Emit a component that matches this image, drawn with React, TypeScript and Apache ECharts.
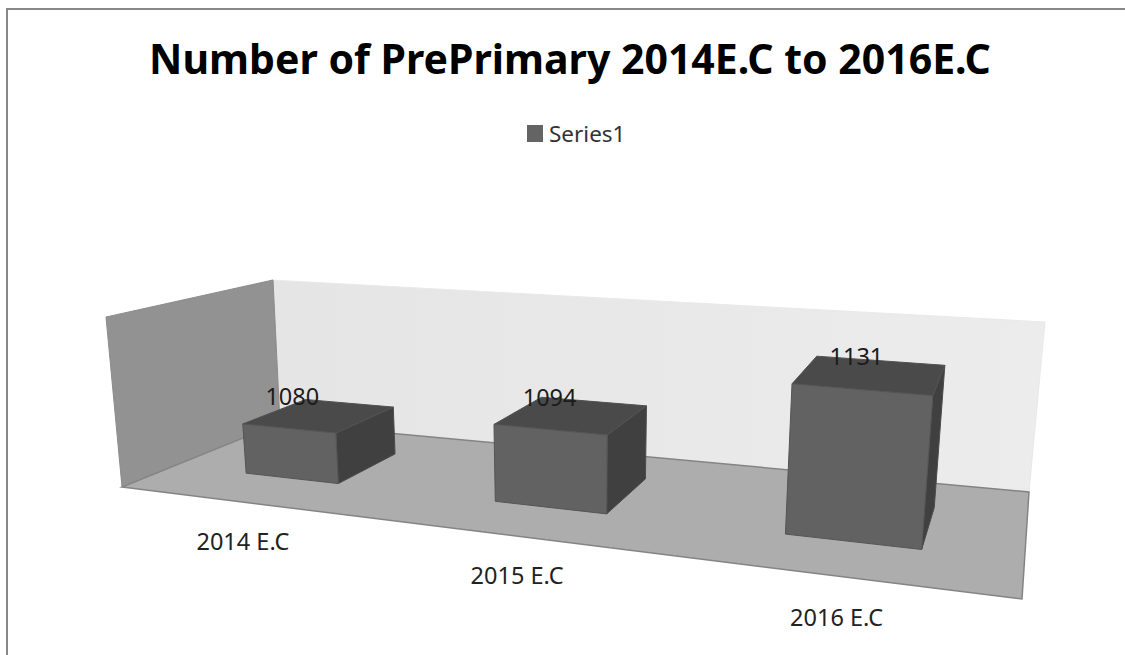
import React, { useEffect, useRef } from "react";
import * as echarts from "echarts";

const title = "Number of PrePrimary 2014E.C to 2016E.C";
const seriesName = "Series1";
const categories = ["2014 E.C", "2015 E.C", "2016 E.C"];
const values = [1080, 1094, 1131];

const FONT = "'Noto Sans', sans-serif";
type P = [number, number];

// Corners of the drawn box: front-left, front-right, back-right, back-left
const FLOOR: P[] = [[122, 487], [1022, 599], [1029, 492], [280, 423]];
const CEIL: P[] = [[106, 317], [1041, 395], [1045, 322], [273, 280]];
// Where the box's vertical edges converge, far below the picture
const VERTICAL_VANISH: P = [576, 5314];

function homography(q: P[]) {
  const [[x0, y0], [x1, y1], [x2, y2], [x3, y3]] = q;
  const dx1 = x1 - x2, dx2 = x3 - x2, sx = x0 - x1 + x2 - x3;
  const dy1 = y1 - y2, dy2 = y3 - y2, sy = y0 - y1 + y2 - y3;
  const den = dx1 * dy2 - dx2 * dy1;
  const g = (sx * dy2 - dx2 * sy) / den;
  const h = (dx1 * sy - sx * dy1) / den;
  const a = x1 - x0 + g * x1, b = x3 - x0 + h * x3;
  const d = y1 - y0 + g * y1, e = y3 - y0 + h * y3;
  return (u: number, w: number): P => {
    const k = g * u + h * w + 1;
    return [(a * u + b * w + x0) / k, (d * u + e * w + y0) / k];
  };
}
const floorAt = homography(FLOOR);
const ceilAt = homography(CEIL);
// u: along the category axis, v: up the value axis, w: depth
const project = (u: number, v: number, w: number): P => {
  const f = floorAt(u, w);
  const y = f[1] + (ceilAt(u, w)[1] - f[1]) * v;
  const lean = (f[0] - VERTICAL_VANISH[0]) / (f[1] - VERTICAL_VANISH[1]);
  return [f[0] + lean * (y - f[1]), y];
};

const poly = (points: P[], fill: any, stroke: string, lineWidth = 1) => ({
  type: "polygon",
  shape: { points },
  style: { fill, stroke, lineWidth },
});

const renderWalls = () => ({
  type: "group",
  children: [
    poly([project(0, 1, 1), project(1, 1, 1), project(1, 0, 1), project(0, 0, 1)], {
      type: "linear", x: 0, y: 0, x2: 1, y2: 0,
      colorStops: [{ offset: 0, color: "#e5e5e5" }, { offset: 1, color: "#ececec" }],
    }, "#e9e9e9"),
    poly([project(0, 1, 0), [273, 280], project(0, 0, 1), project(0, 0, 0)], "#929292", "#8c8c8c"),
    poly([project(0, 0, 0), project(1, 0, 0), project(1, 0, 1), project(0, 0, 1)], "#adadad", "#848484", 1.5),
  ],
});

const BAR_WIDTH = 0.133;
const BAR_SHIFT = [0.008, 0.014, 0.007];
const VALUE_LABEL_NUDGE: P[] = [[3, -33], [-1, -33], [-6, -34]];
const LABEL_NUDGE: P[] = [[0.5, 39], [3, 39], [0.5, 41]];
const DEPTH_FRONT = 0.3;
const DEPTH_BACK = 0.72;

const renderBar = (params: any, api: any) => {
  const i = api.value(0);
  const cs = params.coordSys;
  const pt = api.coord([i, api.value(1)]);
  const uc = (pt[0] - cs.x) / cs.width + BAR_SHIFT[i];
  const v = (cs.y + cs.height - pt[1]) / cs.height;
  const u0 = uc - BAR_WIDTH / 2, u1 = uc + BAR_WIDTH / 2;
  const w0 = DEPTH_FRONT, w1 = DEPTH_BACK;
  const ftl = project(u0, v, w0), ftr = project(u1, v, w0);
  const fbl = project(u0, 0, w0), fbr = project(u1, 0, w0);
  const btl = project(u0, v, w1), btr = project(u1, v, w1);
  const bbr = project(u1, 0, w1);
  const edge = floorAt(uc, 0);
  return {
    type: "group",
    children: [
      poly([ftr, btr, bbr, fbr], "#404040", "#4c4c4c"),
      poly([ftl, btl, btr, ftr], "#4a4a4a", "#525252"),
      poly([ftl, ftr, fbr, fbl], "#626262", "#555555"),
      {
        type: "text",
        style: {
          x: (ftl[0] + ftr[0]) / 2 + VALUE_LABEL_NUDGE[i][0],
          y: (ftl[1] + ftr[1]) / 2 + VALUE_LABEL_NUDGE[i][1],
          text: String(api.value(1)), fill: "#1c1c1c",
          font: `23.5px ${FONT}`, align: "center", verticalAlign: "middle",
        },
      },
      {
        type: "text",
        style: {
          x: edge[0] + LABEL_NUDGE[i][0], y: edge[1] + LABEL_NUDGE[i][1],
          text: categories[i], fill: "#222222",
          font: `23.5px ${FONT}`, align: "center", verticalAlign: "middle",
        },
      },
    ],
  };
};

export default function App() {
  const ref = useRef<HTMLDivElement>(null);
  useEffect(() => {
    document.body.style.margin = "0";
    document.body.style.overflow = "hidden";
    const chart = echarts.init(ref.current!, undefined, { renderer: "svg" });
    chart.setOption({
      animation: false,
      backgroundColor: "#ffffff",
      title: {
        text: title, left: 565, top: 32, textAlign: "center",
        textStyle: { fontFamily: FONT, fontWeight: "bold", fontSize: 41, color: "#000000" },
      },
      legend: {
        data: [seriesName], left: 527, top: 122, padding: 0,
        icon: "rect", itemWidth: 16, itemHeight: 17, itemGap: 6,
        textStyle: { fontFamily: FONT, fontSize: 22.5, color: "#333333", padding: [0, 0, 0, 1] },
      },
      graphic: [{
        type: "rect", silent: true, z: 100,
        shape: { x: 7, y: 9, width: 1400, height: 900 },
        style: { fill: "none", stroke: "#888888", lineWidth: 2 },
      }],
      grid: { left: 100, right: 100, top: 250, bottom: 60 },
      xAxis: { type: "category", data: categories, show: false },
      yAxis: { type: "value", min: 1050, max: 1150, show: false },
      series: [
        { type: "custom", name: "walls", data: [[0, 1050]], silent: true, z: 1, clip: false, renderItem: renderWalls, legendHoverLink: false },
        {
          type: "custom", name: seriesName, z: 2, clip: false,
          itemStyle: { color: "#646464" },
          data: values.map((v, i) => [i, v]),
          encode: { x: 0, y: 1 },
          renderItem: renderBar,
        },
      ],
    });
    return () => chart.dispose();
  }, []);
  return <div ref={ref} style={{ width: 1125, height: 655 }} />;
}
